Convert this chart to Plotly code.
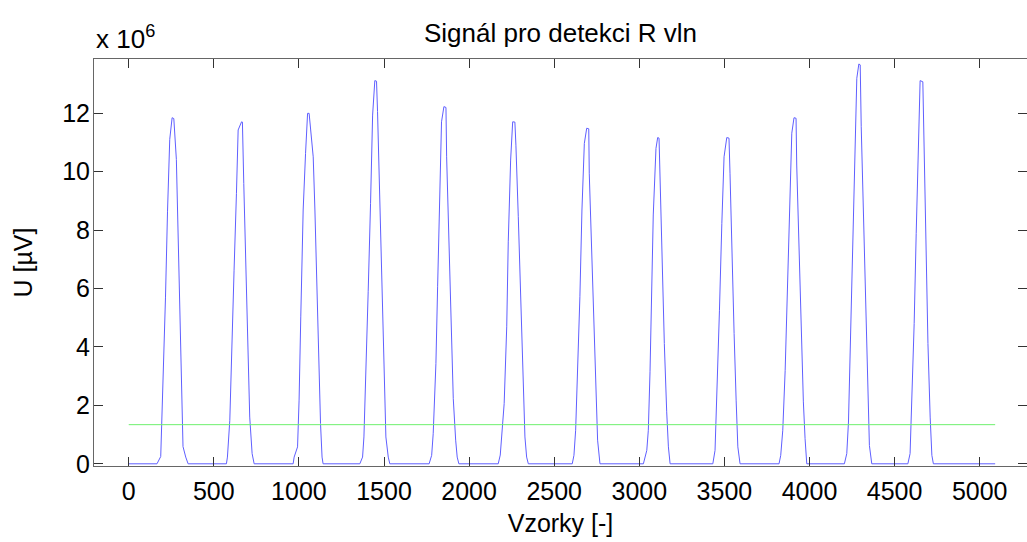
import plotly.graph_objects as go

# ---- data (samples, signal in units of 1e6 uV) ----
signal_start = 0
signal_end = 5091
threshold = 1.34

p1_x = [166, 188, 192, 202, 216, 228, 241, 255, 265, 280, 290, 300, 310, 319, 335, 349]
p1_y = [0, 0.25, 0.94, 2.88, 5.68, 8.65, 11.11, 11.85, 11.82, 10.42, 7.96, 4.82, 2.25, 0.59, 0.23, 0]

p2_x = [574, 580, 594, 604, 619, 633, 643, 663, 668, 676, 686, 701, 711, 725, 737]
p2_y = [0, 0.23, 1.49, 3.78, 6.63, 9.26, 11.43, 11.71, 11.70, 9.60, 7.32, 3.83, 1.60, 0.35, 0]

p3_x = [966, 972, 992, 1001, 1011, 1025, 1039, 1051, 1060, 1068, 1084, 1094, 1107, 1117, 1127, 1136, 1142]
p3_y = [0, 0.23, 0.58, 2.18, 5.03, 8.69, 10.63, 12.0, 12.0, 11.43, 10.51, 8.69, 5.72, 2.86, 1.38, 0.23, 0]

p4_x = [1358, 1374, 1382, 1393, 1407, 1421, 1433, 1446, 1456, 1462, 1476, 1489, 1501, 1511, 1525, 1534]
p4_y = [0, 0.23, 0.92, 2.80, 5.89, 8.92, 11.94, 13.12, 13.10, 12.06, 8.97, 5.72, 2.58, 0.92, 0.23, 0]

p5_x = [1765, 1780, 1789, 1805, 1815, 1828, 1838, 1852, 1864, 1868, 1881, 1893, 1907, 1921, 1930, 1940]
p5_y = [0, 0.29, 1.03, 3.43, 6.06, 9.20, 11.71, 12.23, 12.20, 10.51, 7.66, 4.46, 2.23, 0.81, 0.23, 0]

p6_x = [2171, 2183, 2191, 2206, 2221, 2230, 2244, 2256, 2269, 2275, 2289, 2303, 2319, 2328, 2338, 2348]
p6_y = [0, 0.30, 0.92, 2.06, 4.69, 7.60, 10.40, 11.71, 11.70, 10.91, 8.46, 5.72, 2.86, 0.92, 0.23, 0]

p7_x = [2606, 2616, 2626, 2638, 2651, 2663, 2677, 2691, 2703, 2706, 2720, 2734, 2746, 2755, 2769]
p7_y = [0, 0.29, 1.15, 3.15, 5.72, 8.69, 10.97, 11.49, 11.47, 9.95, 7.32, 4.58, 1.89, 0.81, 0]

p8_x = [3024, 3044, 3053, 3063, 3073, 3082, 3098, 3108, 3116, 3122, 3135, 3147, 3161, 3171, 3181]
p8_y = [0, 0.46, 1.15, 3.15, 5.95, 8.52, 10.80, 11.17, 11.15, 9.60, 6.97, 4.12, 1.78, 0.58, 0]

p9_x = [3432, 3445, 3459, 3471, 3485, 3498, 3514, 3527, 3533, 3543, 3557, 3569, 3579, 3592]
p9_y = [0, 0.46, 2.75, 5.26, 8.23, 10.51, 11.17, 11.15, 9.95, 7.32, 4.46, 2.18, 0.58, 0]

p10_x = [3821, 3831, 3843, 3857, 3870, 3882, 3896, 3909, 3921, 3925, 3939, 3951, 3964, 3974, 3984]
p10_y = [0, 0.29, 1.15, 3.20, 5.77, 8.80, 11.32, 11.85, 11.83, 10.23, 7.38, 4.46, 2.12, 0.86, 0]

p11_x = [4205, 4219, 4229, 4239, 4253, 4264, 4278, 4290, 4298, 4304, 4317, 4331, 4343, 4352, 4366]
p11_y = [0, 0.35, 1.43, 3.83, 7.09, 10.34, 13.20, 13.69, 13.66, 11.54, 8.46, 5.15, 2.18, 0.63, 0]

p12_x = [4578, 4591, 4601, 4615, 4627, 4640, 4650, 4666, 4674, 4686, 4696, 4709, 4719, 4728]
p12_y = [0, 0.35, 2.06, 4.80, 7.89, 10.97, 13.12, 13.08, 10.51, 7.20, 4.12, 1.60, 0.29, 0]

x_ticks = [0, 500, 1000, 1500, 2000, 2500, 3000, 3500, 4000, 4500, 5000]
y_ticks = [0, 2, 4, 6, 8, 10, 12]

peaks_x = [p1_x, p2_x, p3_x, p4_x, p5_x, p6_x, p7_x, p8_x, p9_x, p10_x, p11_x, p12_x]
peaks_y = [p1_y, p2_y, p3_y, p4_y, p5_y, p6_y, p7_y, p8_y, p9_y, p10_y, p11_y, p12_y]

sig_x = [signal_start]
sig_y = [0]
for px, py in zip(peaks_x, peaks_y):
    sig_x += px
    sig_y += py
sig_x.append(signal_end)
sig_y.append(0)

FONT = "Liberation Sans, Arial, Helvetica, sans-serif"
FS = 25

fig = go.Figure()
fig.add_trace(go.Scatter(x=sig_x, y=sig_y, mode="lines",
                         line=dict(color="rgb(95,95,255)", width=1), showlegend=False))
fig.add_trace(go.Scatter(x=[signal_start, signal_end], y=[threshold, threshold], mode="lines",
                         line=dict(color="rgb(110,240,110)", width=1), showlegend=False))

axis_common = dict(showgrid=False, zeroline=False, showline=True, linecolor="#666",
                   linewidth=1, mirror="ticks", ticks="inside", ticklen=9,
                   tickcolor="#333", tickwidth=1,
                   tickfont=dict(family=FONT, size=FS, color="black"))

fig.update_xaxes(range=[-204, 5278], tickvals=x_ticks, ticklabelstandoff=3,
                 title=dict(text="Vzorky [-]", font=dict(family=FONT, size=FS, color="black"),
                            standoff=10),
                 **axis_common)
fig.update_yaxes(range=[-0.075, 13.86], tickvals=y_ticks, ticklabelstandoff=-2,
                 title=dict(text="U [µV]", font=dict(family=FONT, size=FS, color="black"),
                            standoff=22),
                 **axis_common)

fig.add_annotation(x=0.0, y=1.0, xref="paper", yref="paper", xanchor="left", yanchor="bottom",
                   xshift=0, yshift=3, showarrow=False, text="x 10<sup>6</sup>",
                   font=dict(family=FONT, size=26, color="black"))

fig.update_layout(
    width=1027, height=542,
    margin=dict(l=94, r=0, t=59, b=76),
    paper_bgcolor="white", plot_bgcolor="white",
    title=dict(text="Signál pro detekci R vln", x=0.5, xref="paper", xanchor="center",
               y=1 - 33 / 542, yanchor="middle", font=dict(family=FONT, size=26, color="black")),
)

fig.write_html("out.html")
